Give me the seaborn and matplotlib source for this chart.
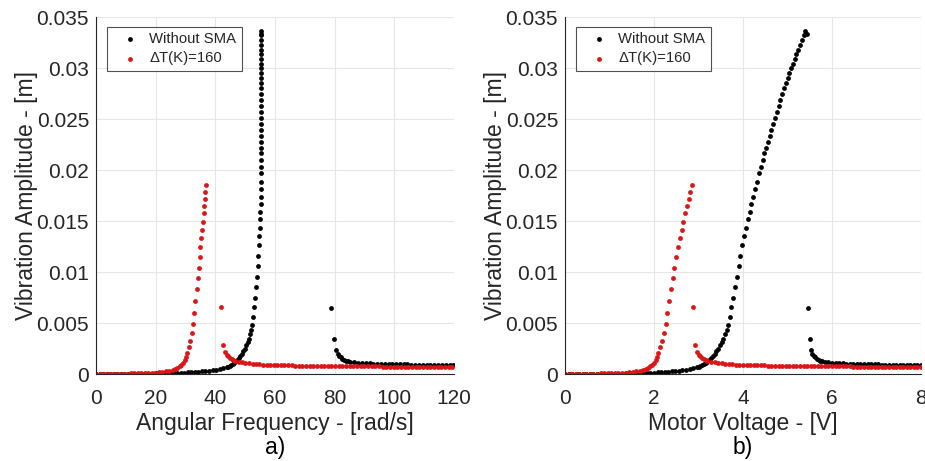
import matplotlib
matplotlib.use("Agg")
import matplotlib.pyplot as plt
import pandas as pd
import seaborn as sns

# Without SMA: motor voltage [V], angular frequency [rad/s], amplitude [m]
volt_no_sma = [
    0.00, 0.08, 0.16, 0.24, 0.32, 0.40, 0.48, 0.56, 0.64, 0.72,
    0.80, 0.88, 0.96, 1.04, 1.12, 1.20, 1.28, 1.36, 1.44, 1.52,
    1.60, 1.68, 1.76, 1.84, 1.92, 2.00, 2.08, 2.16, 2.24, 2.32,
    2.40, 2.48, 2.56, 2.64, 2.72, 2.80, 2.88, 2.96,
    3.00, 3.04, 3.08, 3.12, 3.16, 3.20, 3.24, 3.28, 3.32, 3.36,
    3.40, 3.44, 3.48, 3.52, 3.56, 3.60, 3.63, 3.66, 3.70, 3.74,
    3.78, 3.82, 3.86, 3.90, 3.94, 3.98, 4.02, 4.07, 4.12, 4.16,
    4.19, 4.23, 4.27, 4.31, 4.36, 4.40, 4.44, 4.48, 4.52, 4.56,
    4.60, 4.64, 4.68, 4.72, 4.76, 4.80, 4.84, 4.88, 4.92, 4.96,
    5.00, 5.04, 5.08, 5.12, 5.16, 5.20, 5.24, 5.28, 5.32, 5.36,
    5.39, 5.43,
    5.45, 5.50, 5.53, 5.56, 5.59, 5.62, 5.66, 5.70, 5.74, 5.78,
    5.84, 5.92, 6.00, 6.08, 6.16, 6.24, 6.32, 6.40, 6.48, 6.56,
    6.64, 6.72, 6.80, 6.88, 6.96, 7.04, 7.12, 7.20, 7.28, 7.36,
    7.44, 7.52, 7.60, 7.68, 7.76, 7.84, 7.92, 8.00]
freq_no_sma = [
    0.0, 1.2, 2.4, 3.6, 4.7, 5.9, 7.1, 8.3, 9.5, 10.7,
    11.8, 13.0, 14.2, 15.4, 16.6, 17.8, 18.9, 20.1, 21.3, 22.5,
    23.7, 24.9, 26.0, 27.2, 28.4, 29.6, 30.8, 32.0, 33.2, 34.3,
    35.5, 36.7, 37.9, 39.1, 40.3, 41.4, 42.6, 43.8,
    44.3, 44.8, 45.3, 45.8, 46.3, 46.8, 47.3, 47.8, 48.3, 48.8,
    49.3, 49.8, 50.3, 50.8, 51.2, 51.6, 51.9, 52.3, 52.7, 53.1,
    53.4, 53.7, 53.9, 54.2, 54.4, 54.6, 54.8, 54.95, 55.05, 55.1,
    55.15, 55.2, 55.25, 55.3, 55.3, 55.3, 55.3, 55.3, 55.3, 55.3,
    55.3, 55.3, 55.3, 55.3, 55.3, 55.3, 55.3, 55.3, 55.3, 55.3,
    55.3, 55.3, 55.3, 55.3, 55.3, 55.3, 55.3, 55.3, 55.35, 55.35,
    55.4, 55.4,
    78.8, 79.8, 80.5, 81.0, 81.5, 82.0, 82.6, 83.2, 83.8, 84.4,
    85.3, 86.6, 87.9, 89.1, 90.4, 91.7, 93.0, 94.2, 95.5, 96.8,
    98.1, 99.3, 100.6, 101.9, 103.2, 104.4, 105.7, 107.0, 108.3, 109.5,
    110.8, 112.1, 113.4, 114.6, 115.9, 117.2, 118.5, 119.7]
amp_no_sma = [
    0.0, 0.0, 0.0, 0.00001, 0.00001, 0.00001, 0.00001, 0.00001, 0.00002, 0.00002,
    0.00002, 0.00002, 0.00003, 0.00003, 0.00003, 0.00004, 0.00004, 0.00005, 0.00005, 0.00006,
    0.00007, 0.00008, 0.00009, 0.00010, 0.00012, 0.00013, 0.00015, 0.00017, 0.00020, 0.00023,
    0.00026, 0.00030, 0.00034, 0.00039, 0.00044, 0.00050, 0.00057, 0.00065,
    0.00070, 0.00078, 0.00087, 0.00098, 0.00110, 0.00124, 0.00140, 0.00158, 0.00178, 0.00200,
    0.00224, 0.00250, 0.00280, 0.00312, 0.00348, 0.00390, 0.00430, 0.00480, 0.00560, 0.00660,
    0.00750, 0.00850, 0.00950, 0.01060, 0.01160, 0.01260, 0.01350, 0.01430, 0.01520, 0.01590,
    0.01670, 0.01740, 0.01810, 0.01880, 0.01967, 0.02032, 0.02097, 0.02163, 0.02218, 0.02277,
    0.02332, 0.02391, 0.02447, 0.02506, 0.02570, 0.02626, 0.02685, 0.02750, 0.02800, 0.02849,
    0.02898, 0.02947, 0.02996, 0.03041, 0.03087, 0.03133, 0.03175, 0.03224, 0.03273, 0.03320,
    0.03360, 0.03330,
    0.00650, 0.00343, 0.00235, 0.00200, 0.00178, 0.00162, 0.00150, 0.00140, 0.00132, 0.00126,
    0.00120, 0.00115, 0.00111, 0.00108, 0.00106, 0.00104, 0.00102, 0.00101, 0.00100, 0.00099,
    0.00098, 0.00097, 0.00096, 0.00095, 0.00095, 0.00094, 0.00093, 0.00093, 0.00092, 0.00092,
    0.00091, 0.00091, 0.00090, 0.00090, 0.00089, 0.00089, 0.00088, 0.00088]

# with SMA, dT = 160 K
volt_sma = [
    0.00, 0.08, 0.16, 0.24, 0.32, 0.40, 0.48, 0.56, 0.64, 0.72,
    0.80, 0.88, 0.96, 1.04, 1.12, 1.20, 1.28, 1.36, 1.44, 1.52,
    1.60, 1.68, 1.76, 1.82, 1.87, 1.92, 1.96, 2.00, 2.04, 2.07,
    2.10, 2.14, 2.18, 2.22, 2.26, 2.30, 2.34, 2.38, 2.42, 2.46,
    2.50, 2.54, 2.58, 2.62, 2.66, 2.70, 2.74, 2.78, 2.82, 2.86,
    2.88, 2.92, 2.96, 3.00, 3.04, 3.08, 3.12, 3.16, 3.20, 3.28,
    3.36, 3.44, 3.52, 3.60, 3.68, 3.76, 3.84, 3.92, 4.00, 4.08,
    4.16, 4.24, 4.32, 4.40, 4.48, 4.56, 4.64, 4.72, 4.80, 4.88,
    4.96, 5.04, 5.12, 5.20, 5.28, 5.36, 5.44, 5.52, 5.60, 5.68,
    5.76, 5.84, 5.92, 6.00, 6.08, 6.16, 6.24, 6.32, 6.40, 6.48,
    6.56, 6.64, 6.72, 6.80, 6.88, 6.96, 7.04, 7.12, 7.20, 7.28,
    7.36, 7.44, 7.52, 7.60, 7.68, 7.76, 7.84, 7.92, 8.00]
freq_sma = [
    0.0, 1.2, 2.3, 3.5, 4.7, 5.8, 7.0, 8.2, 9.3, 10.5,
    11.7, 12.8, 14.0, 15.2, 16.4, 17.5, 18.7, 19.9, 21.0, 22.2,
    23.4, 24.5, 25.7, 26.6, 27.3, 28.0, 28.6, 29.2, 29.8, 30.2,
    30.6, 31.1, 31.6, 32.1, 32.6, 33.0, 33.3, 33.7, 34.1, 34.4,
    34.7, 34.9, 35.2, 35.5, 35.8, 36.1, 36.3, 36.5, 36.7, 36.9,
    41.9, 42.7, 43.2, 43.8, 44.3, 44.9, 45.5, 46.0, 46.6, 47.8,
    49.0, 50.1, 51.3, 52.5, 53.7, 54.8, 56.0, 57.2, 58.3, 59.5,
    60.7, 61.9, 63.1, 64.3, 65.6, 66.8, 68.0, 69.2, 70.4, 71.6,
    72.8, 74.1, 75.3, 76.5, 77.7, 78.9, 80.2, 81.4, 82.6, 83.8,
    85.0, 86.3, 87.5, 88.7, 89.9, 91.2, 92.4, 93.6, 94.8, 96.1,
    97.3, 98.5, 99.8, 101.0, 102.2, 103.5, 104.7, 105.9, 107.2, 108.4,
    109.6, 110.9, 112.1, 113.3, 114.6, 115.8, 117.0, 118.3, 119.5]
amp_sma = [
    0.0, 0.0, 0.00001, 0.00001, 0.00001, 0.00002, 0.00002, 0.00003, 0.00003, 0.00004,
    0.00005, 0.00006, 0.00007, 0.00008, 0.00009, 0.00010, 0.00012, 0.00014, 0.00017, 0.00021,
    0.00026, 0.00032, 0.00041, 0.00050, 0.00060, 0.00074, 0.00090, 0.00110, 0.00135, 0.00165,
    0.00204, 0.00263, 0.00324, 0.00400, 0.00490, 0.00596, 0.00712, 0.00833, 0.00941, 0.01041,
    0.01149, 0.01243, 0.01331, 0.01412, 0.01493, 0.01574, 0.01647, 0.01716, 0.01787, 0.01853,
    0.00660, 0.00280, 0.00220, 0.00190, 0.00172, 0.00158, 0.00147, 0.00139, 0.00132, 0.00122,
    0.00115, 0.00109, 0.00104, 0.00100, 0.00097, 0.00095, 0.00093, 0.00091, 0.00089, 0.00088,
    0.00087, 0.00086, 0.00085, 0.00085, 0.00084, 0.00083, 0.00083, 0.00082, 0.00082, 0.00081,
    0.00081, 0.00080, 0.00080, 0.00079, 0.00079, 0.00078, 0.00078, 0.00078, 0.00077, 0.00077,
    0.00076, 0.00076, 0.00076, 0.00075, 0.00075, 0.00075, 0.00074, 0.00074, 0.00074, 0.00073,
    0.00073, 0.00073, 0.00073, 0.00072, 0.00072, 0.00072, 0.00072, 0.00071, 0.00071, 0.00071,
    0.00071, 0.00071, 0.00070, 0.00070, 0.00070, 0.00070, 0.00070, 0.00070, 0.00069]

freq_ticks = [0, 20, 40, 60, 80, 100, 120]
volt_ticks = [0, 2, 4, 6, 8]
amp_ticks = [0, 0.005, 0.01, 0.015, 0.02, 0.025, 0.03, 0.035]
amp_tick_labels = ['0', '0.005', '0.01', '0.015', '0.02', '0.025', '0.03', '0.035']

no_sma = pd.DataFrame({'V': volt_no_sma, 'w': freq_no_sma, 'A': amp_no_sma})
sma = pd.DataFrame({'V': volt_sma, 'w': freq_sma, 'A': amp_sma})

sns.set_theme(style="white")
plt.rcParams['font.family'] = ['Liberation Sans', 'DejaVu Sans']

dark = '#262626'
red = '#dc1616'

fig = plt.figure(figsize=(9.25, 4.61), dpi=100)
ax1 = fig.add_axes([0.1038, 0.1887, 0.3870, 0.7744])
ax2 = fig.add_axes([0.6108, 0.1887, 0.3849, 0.7744])

panels = [
    (ax1, 'w', 'Angular Frequency - [rad/s]', freq_ticks, 'a)'),
    (ax2, 'V', 'Motor Voltage - [V]', volt_ticks, 'b)'),
]

for ax, xcol, xlab, xt, tag in panels:
    sns.scatterplot(data=no_sma, x=xcol, y='A', color='black', s=12,
                    linewidth=0, ax=ax, label='Without SMA')
    sns.scatterplot(data=sma, x=xcol, y='A', color=red, s=12,
                    linewidth=0, ax=ax, label='ΔT(K)=160')
    ax.set_xlim(xt[0], xt[-1])
    ax.set_ylim(0, 0.035)
    ax.set_xticks(xt)
    ax.set_xticklabels([str(t) for t in xt])
    ax.set_yticks(amp_ticks)
    ax.set_yticklabels(amp_tick_labels)
    ax.grid(True, color='#e6e6e6', linewidth=0.8)
    ax.set_axisbelow(True)
    for side in ['top', 'right']:
        ax.spines[side].set_visible(False)
    for side in ['left', 'bottom']:
        ax.spines[side].set_color(dark)
        ax.spines[side].set_linewidth(0.8)
    ax.tick_params(direction='in', length=3, width=0.6, colors=dark, labelsize=15)
    ax.tick_params(axis='x', pad=11)
    ax.tick_params(axis='y', pad=5)
    ax.set_xlabel(xlab, fontsize=16.5, color=dark, labelpad=3)
    ax.set_ylabel('Vibration Amplitude - [m]', fontsize=16.5, color=dark, labelpad=-1)
    leg = ax.legend(loc='upper left', bbox_to_anchor=(0.031, 0.972), borderaxespad=0,
                    frameon=True, fancybox=False, fontsize=10.7, handlelength=2.4,
                    handletextpad=0.1, borderpad=0.35, labelspacing=0.35,
                    markerscale=1.0)
    leg.get_frame().set_edgecolor(dark)
    leg.get_frame().set_linewidth(0.8)
    for t in leg.get_texts():
        t.set_color(dark)
    pos = ax.get_position()
    fig.text((pos.x0 + pos.x1) / 2, 0.03, tag, ha='center', va='center',
             fontsize=16.5, color='black')

fig.savefig('out.png', dpi=100)
